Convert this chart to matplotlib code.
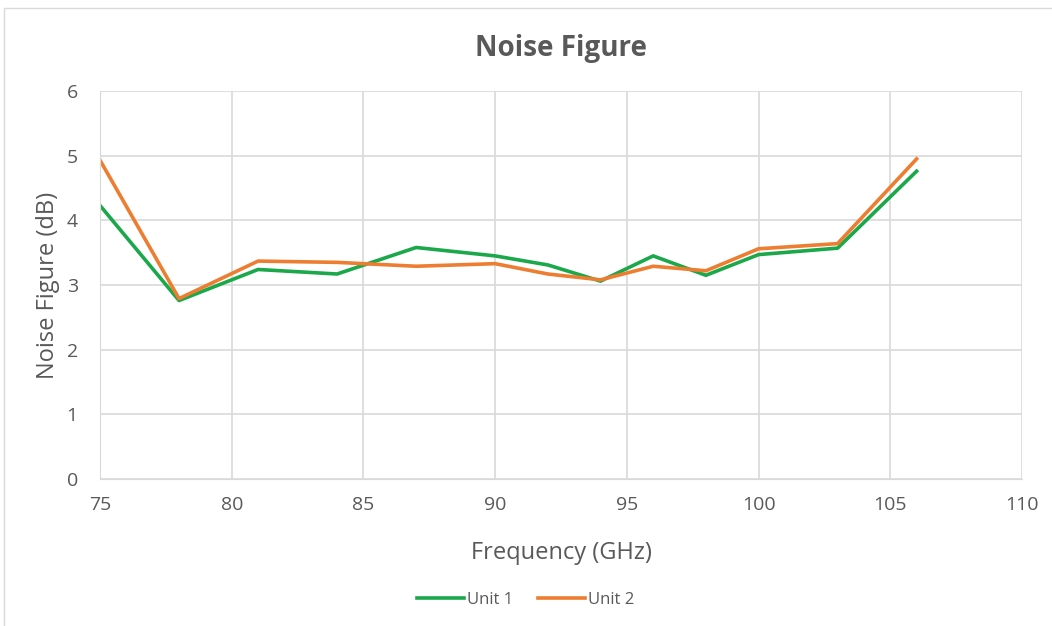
import matplotlib.pyplot as plt
from matplotlib.patches import Rectangle

freq = [75, 78, 81, 84, 87, 90, 92, 94, 96, 98, 100, 103, 106]
unit1 = [4.23, 2.76, 3.24, 3.17, 3.58, 3.45, 3.31, 3.06, 3.45, 3.15, 3.47, 3.57, 4.76]
unit2 = [4.93, 2.79, 3.37, 3.35, 3.29, 3.33, 3.17, 3.08, 3.29, 3.22, 3.56, 3.64, 4.95]

plt.rcParams['font.family'] = ['Open Sans', 'DejaVu Sans']
grey = '#595959'

fig = plt.figure(figsize=(10.52, 6.26), dpi=100)
ax = fig.add_axes([100 / 1052, 1 - 479 / 626, 922 / 1052, 388 / 626])

ax.plot(freq, unit1, color='#1BA84A', linewidth=2.6, label='Unit 1')
ax.plot(freq, unit2, color='#ED7D31', linewidth=2.6, label='Unit 2')

ax.set_xlim(75, 110)
ax.set_ylim(0, 6)
ax.set_xticks(range(75, 111, 5))
ax.set_yticks(range(0, 7))
ax.grid(True, color='#d9d9d9', linewidth=1.2)
ax.set_axisbelow(True)
for s in ['top', 'right']:
    ax.spines[s].set_visible(False)
ax.spines['left'].set_color('#d9d9d9')
ax.spines['bottom'].set_color('#d9d9d9')
ax.tick_params(length=0, labelsize=14, colors=grey)
ax.tick_params(axis='y', pad=16)
ax.tick_params(axis='x', pad=12)

ax.set_title('Noise Figure', fontsize=20, fontweight='bold', color=grey, pad=25)
ax.set_xlabel('Frequency (GHz)', fontsize=17, color=grey, labelpad=20)
ax.set_ylabel('Noise Figure (dB)', fontsize=17, color=grey, labelpad=5)

fig.legend(loc='center', bbox_to_anchor=(0.5, 1 - 600 / 626), ncol=2, frameon=False,
           fontsize=12, labelcolor=grey, handlelength=2.8, handletextpad=0.2, columnspacing=1.5)

fig.patches.append(Rectangle((4 / 1052, -0.01), 1.02, 1 - 8 / 626 + 0.01, transform=fig.transFigure,
                             fill=False, edgecolor='#d9d9d9', linewidth=1))

fig.savefig('out.png', dpi=100)
